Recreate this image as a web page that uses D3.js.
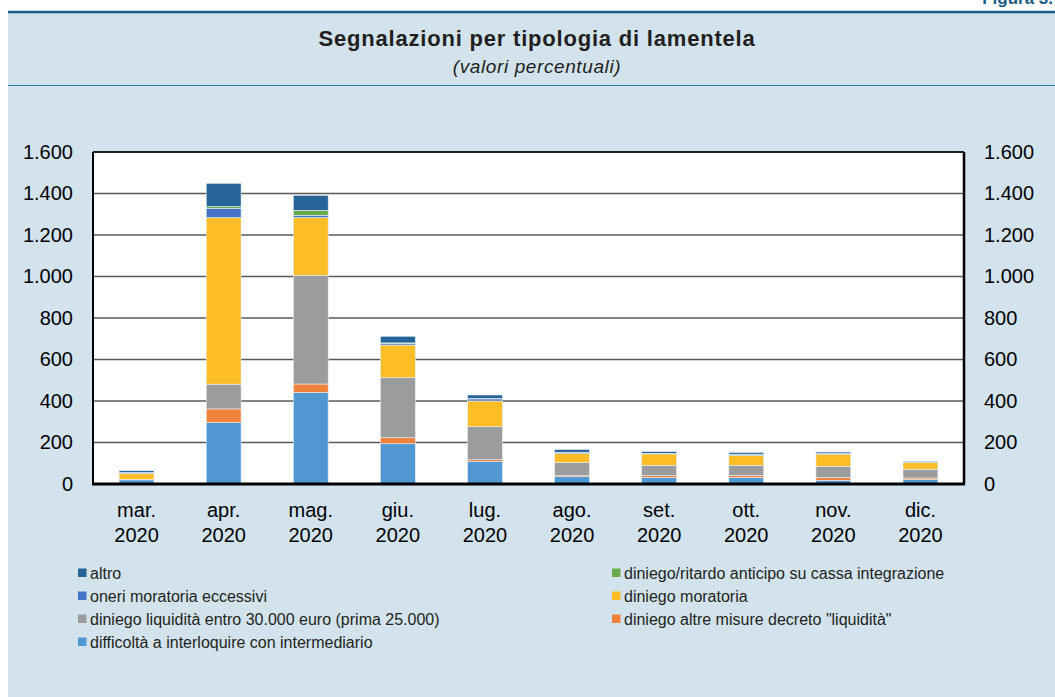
<!DOCTYPE html>
<html>
<head>
<meta charset="utf-8">
<script src="https://cdn.jsdelivr.net/npm/d3@7"></script>
<style>
    body { margin: 0; background: #ffffff; }
    svg { display: block; font-family: "Liberation Sans", Arial, sans-serif; }
</style>
</head>
<body>
<div class="svg_vis_container"></div>
<script>
// months on the x axis
const months = ["mar.", "apr.", "mag.", "giu.", "lug.", "ago.", "set.", "ott.", "nov.", "dic."];
const year = "2020";

// series, bottom of stack first
const difficolta   = [20, 296, 441, 194, 108, 35, 31, 31, 18, 21];
const altreMisure  = [0, 66, 41, 29, 9, 5, 9, 11, 13, 8];
const liquidita    = [2, 119, 524, 289, 159, 63, 50, 48, 54, 42];
const moratoria    = [29, 803, 278, 158, 124, 44, 55, 47, 59, 32];
const oneri        = [5, 45, 11, 8, 10, 5, 2, 2, 2, 1];
const cassa        = [0, 8, 24, 2, 2, 1, 1, 5, 1, 1];
const altro        = [8, 112, 72, 32, 17, 13, 8, 8, 7, 4];

const yTicks = [0, 200, 400, 600, 800, 1000, 1200, 1400, 1600];

const series = [
    {key: "difficolta", name: "difficoltà a interloquire con intermediario", values: difficolta, color: "#5198d3"},
    {key: "altreMisure", name: "diniego altre misure decreto \"liquidità\"", values: altreMisure, color: "#f0823b"},
    {key: "liquidita", name: "diniego liquidità entro 30.000 euro (prima 25.000)", values: liquidita, color: "#9a9c9d"},
    {key: "moratoria", name: "diniego moratoria", values: moratoria, color: "#fdbd27"},
    {key: "oneri", name: "oneri moratoria eccessivi", values: oneri, color: "#4472c4"},
    {key: "cassa", name: "diniego/ritardo anticipo su cassa integrazione", values: cassa, color: "#6aab4c"},
    {key: "altro", name: "altro", values: altro, color: "#266397"}
];

// legend layout: [series key, column, row]
const legendOrder = [
    ["altro", 0, 0], ["cassa", 1, 0],
    ["oneri", 0, 1], ["moratoria", 1, 1],
    ["liquidita", 0, 2], ["altreMisure", 1, 2],
    ["difficolta", 0, 3]
];

const width = 1055, height = 697;
const plot = {left: 93, right: 964, top: 152, bottom: 484};

const svg = d3.select(".svg_vis_container")
    .append("svg")
        .attr("width", width)
        .attr("height", height);

// panel background and header rules
svg.append("rect")
    .attr("x", 8).attr("y", 12)
    .attr("width", width - 8).attr("height", height - 12)
    .attr("fill", "#d2e3ed");

svg.append("line")
    .attr("x1", 8).attr("x2", width)
    .attr("y1", 12).attr("y2", 12)
    .attr("stroke", "#1d5c86").attr("stroke-width", 2.5);

svg.append("line")
    .attr("x1", 8).attr("x2", width)
    .attr("y1", 85.5).attr("y2", 85.5)
    .attr("stroke", "#3677a3").attr("stroke-width", 1);

// figure number, cut by the top edge as in the source
svg.append("text")
    .attr("x", width - 2).attr("y", 4)
    .style("text-anchor", "end")
    .style("font-weight", "bold")
    .style("font-size", "17px")
    .attr("fill", "#1d5c86")
    .text("Figura 3.");

// titles
svg.append("text")
    .attr("x", 537).attr("y", 46)
    .style("text-anchor", "middle")
    .style("font-weight", "bold")
    .style("font-size", "22px")
    .style("letter-spacing", "0.8px")
    .attr("fill", "#231f20")
    .text("Segnalazioni per tipologia di lamentela");

svg.append("text")
    .attr("x", 537).attr("y", 73)
    .style("text-anchor", "middle")
    .style("font-style", "italic")
    .style("font-size", "19px")
    .style("letter-spacing", "0.6px")
    .attr("fill", "#231f20")
    .text("(valori percentuali)");

// scales
const x_scale = d3.scaleBand()
    .domain(months)
    .range([plot.left, plot.right])
    .paddingInner(0.6)
    .paddingOuter(0.3);

const y_scale = d3.scaleLinear()
    .domain([0, 1600])
    .range([plot.bottom, plot.top]);

// white plot area
svg.append("rect")
    .attr("x", plot.left).attr("y", plot.top)
    .attr("width", plot.right - plot.left)
    .attr("height", plot.bottom - plot.top)
    .attr("fill", "#ffffff");

// gridlines
svg.append("g")
    .selectAll("line")
    .data(yTicks.filter(d => d > 0))
    .join("line")
        .attr("x1", plot.left).attr("x2", plot.right)
        .attr("y1", d => y_scale(d)).attr("y2", d => y_scale(d))
        .attr("stroke", "#5a5a5a")
        .attr("stroke-width", 1.3);

// stacked bars
const table = months.map((m, i) => {
    let row = {month: m};
    series.forEach(s => row[s.key] = s.values[i]);
    return row;
});
const stack = d3.stack().keys(series.map(s => s.key))(table);

svg.append("g")
    .selectAll("g")
    .data(stack)
    .join("g")
        .attr("fill", (d, i) => series[i].color)
    .selectAll("rect")
    .data(d => d)
    .join("rect")
        .attr("x", d => x_scale(d.data.month))
        .attr("width", x_scale.bandwidth())
        .attr("y", d => y_scale(d[1]))
        .attr("height", d => y_scale(d[0]) - y_scale(d[1]))
        .attr("stroke", "#e4eef5")
        .attr("stroke-width", 0.6);

// plot frame
svg.append("line")
    .attr("x1", plot.left).attr("x2", plot.right)
    .attr("y1", plot.top).attr("y2", plot.top)
    .attr("stroke", "#000").attr("stroke-width", 1.5);
svg.append("line")
    .attr("x1", plot.left).attr("x2", plot.left)
    .attr("y1", plot.top).attr("y2", plot.bottom)
    .attr("stroke", "#000").attr("stroke-width", 2);
svg.append("line")
    .attr("x1", plot.right).attr("x2", plot.right)
    .attr("y1", plot.top).attr("y2", plot.bottom)
    .attr("stroke", "#000").attr("stroke-width", 2.5);
svg.append("line")
    .attr("x1", plot.left - 1).attr("x2", plot.right + 1)
    .attr("y1", plot.bottom).attr("y2", plot.bottom)
    .attr("stroke", "#000").attr("stroke-width", 3);

// y axes, left and right
const fmt = d => d3.format(",")(d).replace(/,/g, ".");

svg.append("g")
    .attr("transform", "translate(" + (plot.left - 17) + ", 0)")
    .call(d3.axisLeft(y_scale).tickValues(yTicks).tickFormat(fmt).tickSize(0))
    .call(g => g.select(".domain").remove())
    .call(g => g.selectAll("text")
        .style("font-size", "20px")
        .style("font-family", "Liberation Sans, Arial, sans-serif")
        .attr("fill", "#000"));

svg.append("g")
    .attr("transform", "translate(" + (plot.right + 17) + ", 0)")
    .call(d3.axisRight(y_scale).tickValues(yTicks).tickFormat(fmt).tickSize(0))
    .call(g => g.select(".domain").remove())
    .call(g => g.selectAll("text")
        .style("font-size", "20px")
        .style("font-family", "Liberation Sans, Arial, sans-serif")
        .attr("fill", "#000"));

// x labels, two lines
const xlab = svg.append("g")
    .selectAll("text")
    .data(months)
    .join("text")
        .attr("x", d => x_scale(d) + x_scale.bandwidth() / 2)
        .attr("y", 517)
        .style("text-anchor", "middle")
        .style("font-size", "20px")
        .attr("fill", "#000");
xlab.append("tspan").text(d => d);
xlab.append("tspan")
    .attr("x", d => x_scale(d) + x_scale.bandwidth() / 2)
    .attr("dy", 25)
    .text(year);

// legend
const legend = svg.append("g")
    .selectAll("g")
    .data(legendOrder)
    .join("g")
        .attr("transform", d => "translate(" + (d[1] === 0 ? 78 : 612) + "," + (573 + d[2] * 23) + ")");

legend.append("rect")
    .attr("x", 0).attr("y", -4.5)
    .attr("width", 8.5).attr("height", 8.5)
    .attr("fill", d => series.find(s => s.key === d[0]).color);

legend.append("text")
    .attr("x", 12).attr("y", 5.5)
    .style("font-size", "16px")
    .attr("fill", "#231f20")
    .text(d => series.find(s => s.key === d[0]).name);
</script>
</body>
</html>
